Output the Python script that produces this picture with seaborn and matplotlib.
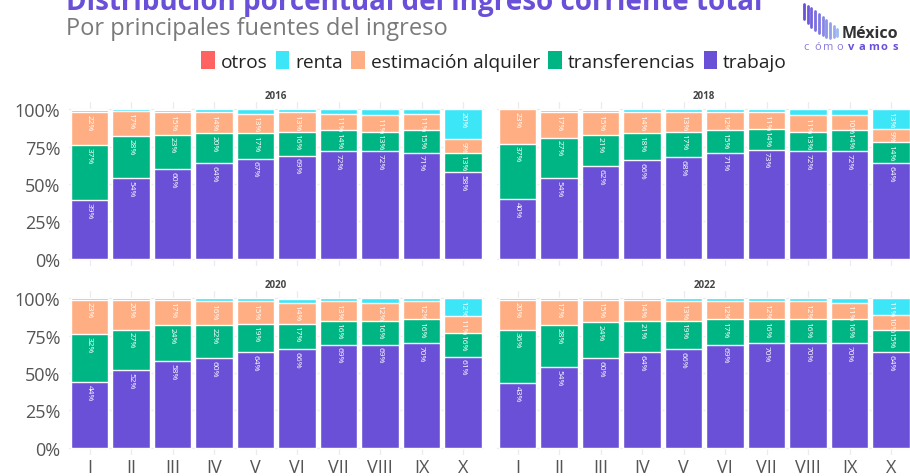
import numpy as np
import pandas as pd
import seaborn as sns
import matplotlib.pyplot as plt
from matplotlib.patches import Patch
from matplotlib.lines import Line2D

# ---------------- data ----------------
deciles = ["I", "II", "III", "IV", "V", "VI", "VII", "VIII", "IX", "X"]
years = ["2016", "2018", "2020", "2022"]

trabajo_2016 = [39, 54, 60, 64, 67, 69, 72, 72, 71, 58]
transferencias_2016 = [37, 28, 23, 20, 17, 16, 14, 13, 15, 13]
alquiler_2016 = [22, 17, 15, 14, 13, 13, 11, 11, 11, 9]
renta_2016 = [1.3, 0.8, 1.3, 1.8, 2.8, 1.8, 2.8, 3.8, 2.8, 19.8]
otros_2016 = [0.7, 0.2, 0.7, 0.2, 0.2, 0.2, 0.2, 0.2, 0.2, 0.2]

trabajo_2018 = [40, 54, 62, 66, 68, 71, 73, 72, 72, 64]
transferencias_2018 = [37, 27, 21, 18, 17, 15, 14, 13, 14, 14]
alquiler_2018 = [23, 17, 15, 14, 13, 12, 11, 11, 10, 9]
renta_2018 = [0.2, 1.2, 1.6, 1.8, 1.8, 1.8, 1.8, 3.8, 3.8, 12.8]
otros_2018 = [0.1, 0.8, 0.4, 0.2, 0.2, 0.2, 0.2, 0.2, 0.2, 0.2]

trabajo_2020 = [44, 52, 58, 60, 64, 66, 69, 69, 70, 61]
transferencias_2020 = [32, 27, 24, 22, 19, 17, 16, 16, 16, 16]
alquiler_2020 = [23, 20, 17, 16, 15, 14, 13, 12, 12, 11]
renta_2020 = [0.7, 0.8, 0.8, 1.8, 1.8, 2.5, 1.8, 2.8, 2.0, 12.0]
otros_2020 = [0.3, 0.2, 0.2, 0.2, 0.2, 0.2, 0.2, 0.2, 0.2, 0.1]

trabajo_2022 = [43, 54, 60, 64, 66, 69, 70, 70, 70, 64]
transferencias_2022 = [36, 28, 24, 21, 19, 17, 16, 16, 16, 15]
alquiler_2022 = [20, 17, 15, 14, 13, 12, 12, 12, 11, 10]
renta_2022 = [0.7, 0.8, 0.8, 0.8, 1.8, 1.8, 1.8, 2.0, 2.8, 11.0]
otros_2022 = [0.3, 0.2, 0.2, 0.2, 0.2, 0.2, 0.2, 0.2, 0.2, 0.1]

series = {
    "2016": dict(trabajo=trabajo_2016, transferencias=transferencias_2016,
                 alquiler=alquiler_2016, renta=renta_2016, otros=otros_2016),
    "2018": dict(trabajo=trabajo_2018, transferencias=transferencias_2018,
                 alquiler=alquiler_2018, renta=renta_2018, otros=otros_2018),
    "2020": dict(trabajo=trabajo_2020, transferencias=transferencias_2020,
                 alquiler=alquiler_2020, renta=renta_2020, otros=otros_2020),
    "2022": dict(trabajo=trabajo_2022, transferencias=transferencias_2022,
                 alquiler=alquiler_2022, renta=renta_2022, otros=otros_2022),
}

# stacking order bottom -> top
stack_keys = ["trabajo", "transferencias", "alquiler", "renta", "otros"]
legend_labels = ["otros", "renta", "estimación alquiler", "transferencias", "trabajo"]
colors = {
    "otros": "#FF6361",
    "renta": "#3DE6F7",
    "alquiler": "#FFAD82",
    "transferencias": "#00B584",
    "trabajo": "#6A50D6",
}
legend_colors = [colors["otros"], colors["renta"], colors["alquiler"],
                 colors["transferencias"], colors["trabajo"]]

# ---------------- style ----------------
sns.set_theme(style="whitegrid")
plt.rcParams["font.family"] = ["Open Sans", "DejaVu Sans"]

W, H = 910, 477
fig = plt.figure(figsize=(W / 100, H / 100), dpi=100)


def rect(left, top, w, h):
    return [left / W, 1 - (top + h) / H, w / W, h / H]


panel_rects = {
    "2016": rect(68.75, 103, 415, 164),
    "2018": rect(496.75, 103, 415, 164),
    "2020": rect(68.75, 292, 415, 164),
    "2022": rect(496.75, 292, 415, 164),
}

for idx, yr in enumerate(years):
    ax = fig.add_axes(panel_rects[yr])
    s = series[yr]
    df = pd.DataFrame({"decil": deciles})
    cum = np.zeros(len(deciles))
    bottoms = {}
    for k in stack_keys:
        bottoms[k] = cum.copy()
        cum = cum + np.array(s[k], dtype=float)
        df["cum_" + k] = cum
    # draw from top cumulative down so lower segments overlap
    for k in reversed(stack_keys):
        sns.barplot(data=df, x="decil", y="cum_" + k, order=deciles,
                    color=colors[k], saturation=1, width=0.9,
                    edgecolor="white", linewidth=1, errorbar=None, ax=ax)
    # labels
    for i in range(len(deciles)):
        for k in ["trabajo", "transferencias", "alquiler", "renta"]:
            v = s[k][i]
            if v >= 5:
                top = bottoms[k][i] + v
                ax.text(i, top - 1.2, f"{round(v):d}%", rotation=-90,
                        ha="center", va="top", color="white", fontsize=6)
    ax.set_xlim(-0.5, 9.5)
    ax.set_ylim(-4.7, 104.7)
    ax.set_yticks([0, 25, 50, 75, 100])
    ax.set_yticklabels(["0%", "25%", "50%", "75%", "100%"])
    ax.set_xlabel("")
    ax.set_ylabel("")
    ax.grid(True, axis="both", color="#EBEBEB", linewidth=0.9)
    ax.set_axisbelow(True)
    for sp in ax.spines.values():
        sp.set_visible(False)
    ax.tick_params(axis="both", length=0, labelsize=13, labelcolor="#555555")
    ax.tick_params(axis="y", pad=6)
    ax.tick_params(axis="x", pad=2)
    if idx % 2 == 1:
        ax.set_yticklabels([])
    if idx < 2:
        ax.set_xticklabels([])
    ax.set_title(yr, fontsize=7, fontweight="bold", color="#444444", pad=3)

# ---------------- titles ----------------
fig.text(66 / W, 1 - 10 / H, "Distribución porcentual del ingreso corriente total",
         fontsize=20, fontweight="bold", color="#6A4FD8", va="baseline", ha="left")
fig.text(66 / W, 1 - 35 / H, "Por principales fuentes del ingreso",
         fontsize=17, color="#7A7A7A", va="baseline", ha="left")

# ---------------- legend ----------------
handles = [Patch(facecolor=c, edgecolor="none") for c in legend_colors]
fig.legend(handles, legend_labels, loc="center", ncol=5,
           bbox_to_anchor=(494 / W, 1 - 62 / H), frameon=False,
           fontsize=13.8, handlelength=0.7, handleheight=1.0,
           handletextpad=0.3, columnspacing=0.45, borderpad=0,
           labelcolor="#222222")

# ---------------- logo ----------------
logo_cols = ["#6A4FD8", "#6E58DA", "#7462DD", "#7A6EE0", "#8079E3",
             "#8686E6", "#8C93E9", "#92A0EC", "#98ADEF", "#9EBAF2"]
tops = [5, 7, 9, 12, 15, 18, 21, 24, 27, 30]
bots = [20, 24, 28, 31, 34, 36, 38, 39, 38, 37]
for j in range(10):
    x = (804 + j * 3.7) / W
    fig.add_artist(Line2D([x, x], [1 - tops[j] / H, 1 - bots[j] / H],
                          color=logo_cols[j], linewidth=2.0,
                          transform=fig.transFigure))
fig.text(842 / W, 1 - 38 / H, "México", fontsize=11.5, fontweight="bold",
         color="#333333", va="baseline", ha="left")
letters = list("cómovamos")
for j, ch in enumerate(letters):
    bold = j >= 4
    fig.text((806 + j * 11.2) / W, 1 - 50 / H, ch, fontsize=8,
             fontweight="bold" if bold else "normal",
             color="#6A4FD8" if bold else "#8B7BE0",
             va="baseline", ha="center")

fig.savefig("out.png", dpi=100)
